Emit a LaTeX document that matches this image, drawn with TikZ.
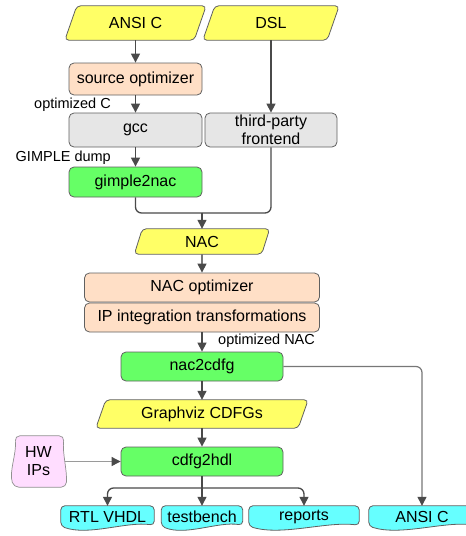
\documentclass[tikz,border=0pt]{standalone}
\usepackage{fontspec}
\setmainfont{Liberation Sans}
\usetikzlibrary{arrows.meta,calc,backgrounds}
\definecolor{yel}{HTML}{FFFF66}
\definecolor{peach}{HTML}{FFDFC6}
\definecolor{lgray}{HTML}{E6E6E6}
\definecolor{grn}{HTML}{66FF66}
\definecolor{pink}{HTML}{FFDDFF}
\definecolor{cyn}{HTML}{66FFFF}
\definecolor{bordc}{HTML}{606060}
\definecolor{linec}{HTML}{4A4A4A}
\definecolor{linemid}{HTML}{777777}
\definecolor{linelt}{HTML}{9A9A9A}
\newcommand\mypara[2]{\draw[parafill] ($(#1.south west)+(-#2,0)$) -- ($(#1.north west)+(#2,0)$) -- ($(#1.north east)+(#2,0)$) -- ($(#1.south east)+(-#2,0)$) -- cycle;}
\newcommand\mydoc[1]{\draw[docfill] (#1.north west) -- (#1.north east) -- ($(#1.south east)+(0,-3)$) .. controls ($(#1.south east)!0.3!(#1.south west)+(0,-7)$) and ($(#1.south east)!0.7!(#1.south west)+(0,8)$) .. ($(#1.south west)+(0,-2)$) -- cycle;}
\begin{document}
\begin{tikzpicture}[x=1pt,y=-1pt,
  font=\fontsize{16}{18}\selectfont,
  box/.style={draw=bordc, rounded corners=5pt, line width=0.8pt, inner sep=1pt, align=center},
  txt/.style={draw=none, inner sep=1pt, align=center},
  lbl/.style={inner sep=0pt, font=\fontsize{14.5}{16}\selectfont},
  parafill/.style={draw=bordc, fill=yel, line width=0.8pt, rounded corners=4pt},
  docfill/.style={draw=bordc, fill=cyn, line width=0.8pt, rounded corners=4pt},
  ln/.style={draw=linec, line width=1.3pt, rounded corners=6pt},
  arr/.style={ln, -{Triangle[length=9pt,width=9pt]}},
  arrlt/.style={draw=linemid, line width=1.1pt, -{Triangle[length=9pt,width=9pt,color=linec]}},
  arrmid/.style={draw=linemid, line width=1.2pt, rounded corners=6pt, -{Triangle[length=9pt,width=9pt,color=linec]}},
  arrhw/.style={draw=linelt, line width=0.9pt, -{Triangle[length=9pt,width=9pt,color=linec]}}
]
\useasboundingbox (0,0) rectangle (466,536);

% inputs
\node[txt, minimum width=129pt, minimum height=34pt] (ansi) at (135.5,23) {ANSI C};
\node[txt, minimum width=124pt, minimum height=34pt] (dsl) at (271,23) {DSL};

\node[box, fill=peach, minimum width=133pt, minimum height=32pt] (so) at (135.5,79) {source optimizer};
\node[box, fill=lgray, minimum width=133pt, minimum height=34pt] (gcc) at (135.5,130) {gcc};
\node[box, fill=lgray, minimum width=132pt, minimum height=34pt] (tpf) at (271,130) {third-party\\frontend};
\node[box, fill=grn, minimum width=133pt, minimum height=30pt] (g2n) at (135.5,182) {gimple2nac};

\node[lbl, anchor=east] (lblc) at (111,105) {optimized C};
\node[lbl, anchor=east] (lblg) at (111,158) {GIMPLE dump};

\node[txt, minimum width=127pt, minimum height=25pt] (nac) at (202,241.5) {NAC};

\node[box, fill=peach, minimum width=235pt, minimum height=29pt] (nacopt) at (202,287.5) {NAC optimizer};
\node[box, fill=peach, minimum width=235pt, minimum height=29pt] (ipint) at (202,317.5) {IP integration transformations};

\node[lbl, anchor=west] (lbln) at (218,341) {optimized NAC};

\node[box, fill=grn, minimum width=162pt, minimum height=29pt] (n2c) at (202,366.5) {nac2cdfg};
\node[txt, minimum width=202pt, minimum height=28pt] (gv) at (202,414) {Graphviz CDFGs};
\node[box, fill=grn, minimum width=162pt, minimum height=29pt] (c2h) at (202,461.5) {cdfg2hdl};

\node[txt, minimum width=53pt, minimum height=51pt] (hw) at (38.5,461.5) {HW\\IPs};

\node[txt, minimum width=93pt, minimum height=22pt] (rtl) at (107.5,517) {RTL VHDL};
\node[txt, minimum width=81pt, minimum height=22pt] (tb) at (202,517) {testbench};
\node[txt, minimum width=110pt, minimum height=22pt] (rep) at (304,517) {reports};
\node[txt, minimum width=106pt, minimum height=22pt] (aout) at (422,517) {ANSI C};

% connectors
\draw[arr] (ansi.south) -- (so.north);
\draw[arr] (so.south) -- (gcc.north);
\draw[arr] (gcc.south) -- (g2n.north);
\draw[arr] (dsl.south) -- (tpf.north);
\coordinate (m1) at (202,213);
\draw[ln] (g2n.south) |- (m1);
\draw[ln] (tpf.south) |- (m1);
\draw[arr] (m1) -- (nac.north);
\draw[arrlt] (nac.south) -- (nacopt.north);
\draw[arr] (ipint.south) -- (n2c.north);
\draw[arr] (n2c.south) -- (gv.north);
\draw[arr] (gv.south) -- (c2h.north);
\draw[arrhw] (hw.east) -- (c2h.west);
\coordinate (m2) at (202,488);
\draw[ln] (c2h.south) -- (m2);
\draw[arr] (m2) -| (rtl.north);
\draw[arr] (m2) -- (tb.north);
\draw[arr] (m2) -| (rep.north);
\draw[arrmid] (n2c.east) -| (aout.north);

\begin{scope}[on background layer]
\mypara{ansi}{6}
\mypara{dsl}{6}
\mypara{nac}{4}
\mypara{gv}{5}
\mydoc{rtl}
\mydoc{tb}
\mydoc{rep}
\mydoc{aout}
\draw[draw=bordc!70, fill=pink, line width=0.7pt, rounded corners=5pt]
  ($(hw.north east)+(-1,0)$)
  .. controls ($(hw.north east)+(-3,18)$) and ($(hw.south east)+(2,-18)$) .. ($(hw.south east)+(1,0)$)
  -- ($(hw.south west)+(2,0)$)
  .. controls ($(hw.south west)+(-3,-16)$) and ($(hw.north west)+(5,18)$) .. ($(hw.north west)+(3,0)$)
  -- cycle;
\end{scope}
\end{tikzpicture}
\end{document}
